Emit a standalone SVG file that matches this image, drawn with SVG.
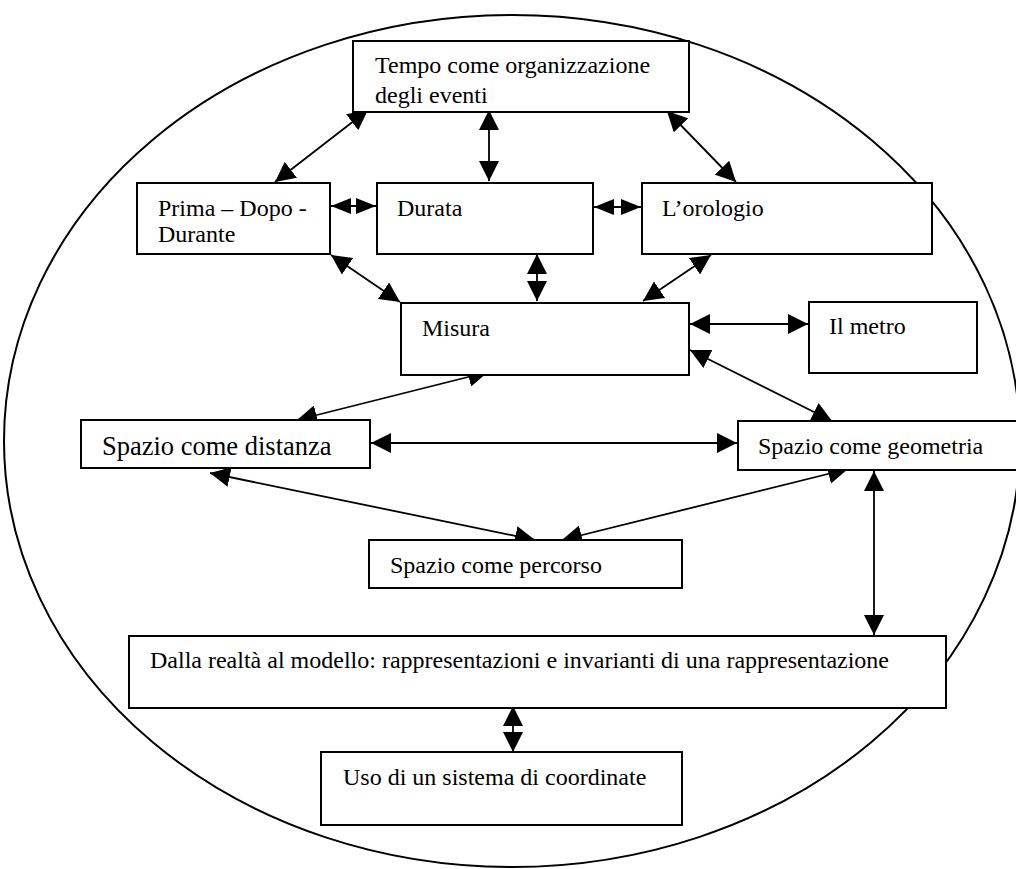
<svg xmlns="http://www.w3.org/2000/svg" width="1016" height="869" viewBox="0 0 1016 869">
<style>
.box{fill:#fff;stroke:#000;stroke-width:2}
.t{font-family:"Liberation Serif","Times New Roman",serif;font-size:24px;fill:#000}
.c{stroke:#000;stroke-width:1.8;fill:none;marker-start:url(#ah);marker-end:url(#ah)}
.cs{stroke:#000;stroke-width:1.8;fill:none;marker-start:url(#ahs);marker-end:url(#ahs)}
</style>
<defs>
<marker id="ah" viewBox="0 0 20 20" markerUnits="userSpaceOnUse" markerWidth="20" markerHeight="20" refX="20" refY="10" orient="auto-start-reverse"><path d="M0,0 L20,10 L0,20 z" fill="#000"/></marker>
<marker id="ahs" viewBox="0 0 20 16" markerUnits="userSpaceOnUse" markerWidth="20" markerHeight="16" refX="20" refY="8" orient="auto-start-reverse"><path d="M0,0 L20,8 L0,16 z" fill="#000"/></marker>
<clipPath id="clipTop"><rect x="354" y="42" width="334" height="66"/></clipPath>
</defs>
<ellipse cx="512" cy="441" rx="508" ry="426" fill="none" stroke="#000" stroke-width="2"/>
<g id="connectors">
<path class="c" d="M368,110 L275,182"/>
<path class="c" d="M489,110 L489,181"/>
<path class="c" d="M667,111 L736,182"/>
<path class="cs" d="M331,206 L376,206"/>
<path class="cs" d="M594,207 L641,207"/>
<path class="c" d="M331,255 L400,302"/>
<path class="c" d="M537,254 L537,301"/>
<path class="c" d="M711,255 L643,301"/>
<path class="c" d="M690,324 L808,324"/>
<path class="c" d="M488,372 L297,420"/>
<path class="c" d="M690,350 L832,421"/>
<path class="c" d="M371,443 L737,443"/>
<path class="c" d="M210,473 L535,540"/>
<path class="c" d="M848,469 L562,540"/>
<path class="c" d="M874,471 L874,635"/>
<path class="c" d="M513,706 L513,752"/>
</g>
<g id="n-tempo"><rect class="box" x="353" y="41" width="336" height="71"/>
<g clip-path="url(#clipTop)"><text class="t" x="375" y="73">Tempo come organizzazione</text><text class="t" x="375" y="103">degli eventi</text></g></g>
<g id="n-prima"><rect class="box" x="137" y="183" width="193" height="71"/><text class="t" x="158" y="216">Prima – Dopo -</text><text class="t" x="158" y="242">Durante</text></g>
<g id="n-durata"><rect class="box" x="377" y="183" width="216" height="71"/><text class="t" x="397" y="216">Durata</text></g>
<g id="n-orologio"><rect class="box" x="642" y="183" width="290" height="71"/><text class="t" x="662" y="216">L’orologio</text></g>
<g id="n-misura"><rect class="box" x="401" y="303" width="288" height="72"/><text class="t" x="422" y="336">Misura</text></g>
<g id="n-metro"><rect class="box" x="809" y="302" width="168" height="71"/><text class="t" x="829" y="334">Il metro</text></g>
<g id="n-distanza"><rect class="box" x="81" y="420" width="289" height="48"/><text class="t" x="102" y="455" style="font-size:26.5px">Spazio come distanza</text></g>
<g id="n-geometria"><rect class="box" x="738" y="421" width="290" height="49"/><text class="t" x="758" y="454">Spazio come geometria</text></g>
<g id="n-percorso"><rect class="box" x="369" y="540" width="313" height="48"/><text class="t" x="390" y="573">Spazio come percorso</text></g>
<g id="n-dalla"><rect class="box" x="129" y="636" width="817" height="72"/><text class="t" x="150" y="668">Dalla realtà al modello: rappresentazioni e invarianti di una rappresentazione</text></g>
<g id="n-uso"><rect class="box" x="321" y="752" width="361" height="73"/><text class="t" x="343" y="785">Uso di un sistema di coordinate</text></g>
</svg>
